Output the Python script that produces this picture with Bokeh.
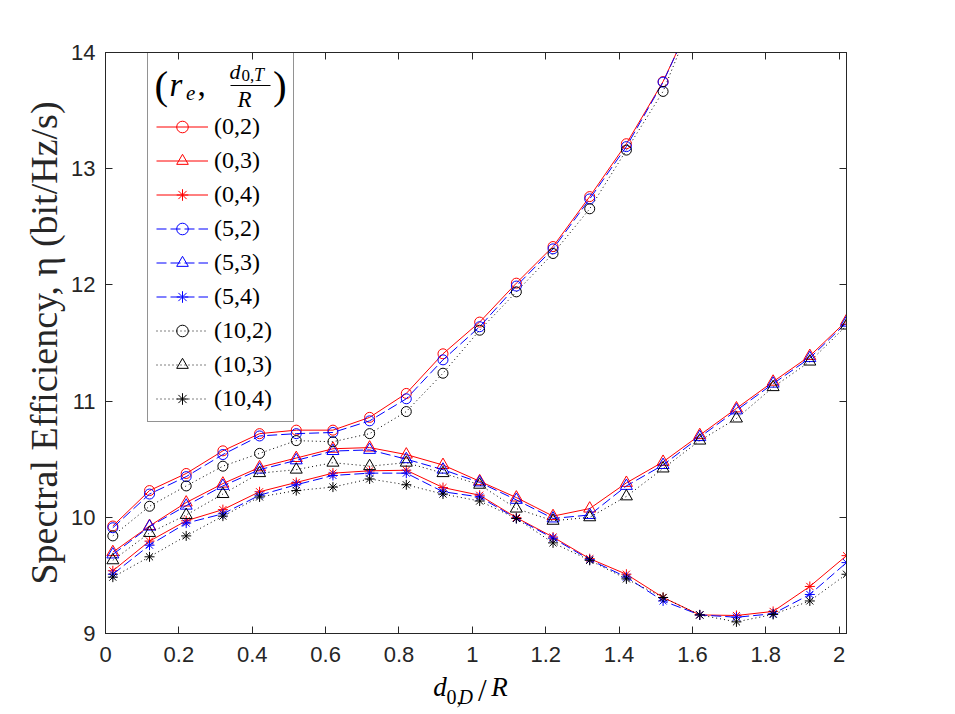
from bokeh.plotting import figure
from bokeh.layouts import column
from bokeh.models import (Legend, LegendItem, LinearAxis, FixedTicker,
                          NumeralTickFormatter, CustomJSTickFormatter, Range1d)
from bokeh.core.properties import value
from bokeh.embed import file_html
from bokeh.resources import INLINE

# ---------------- data ----------------
x_vals = [0.02, 0.12, 0.22, 0.32, 0.42, 0.52, 0.62, 0.72, 0.82, 0.92, 1.02,
          1.12, 1.22, 1.32, 1.42, 1.52, 1.62, 1.72, 1.82, 1.92, 2.02]

series_labels = ["(0,2)", "(0,3)", "(0,4)", "(5,2)", "(5,3)", "(5,4)",
                 "(10,2)", "(10,3)", "(10,4)"]

eta_0_2 = [9.925, 10.23, 10.377, 10.572, 10.72, 10.75, 10.75, 10.86, 11.066, 11.407,
           11.68, 12.015, 12.33, 12.76, 13.215, 13.75, 14.43]
eta_0_3 = [9.70, 9.925, 10.127, 10.29, 10.43, 10.51, 10.59, 10.60, 10.54, 10.45, 10.31,
           10.17, 10.01, 10.075, 10.296, 10.477, 10.707, 10.937, 11.167, 11.388, 11.69]
eta_0_4 = [9.54, 9.795, 9.97, 10.066, 10.22, 10.30, 10.38, 10.40, 10.405, 10.256, 10.19,
           9.997, 9.83, 9.644, 9.51, 9.31, 9.16, 9.155, 9.19, 9.405, 9.67]
eta_5_2 = [9.91, 10.20, 10.35, 10.54, 10.70, 10.72, 10.73, 10.83, 11.02, 11.355,
           11.64, 11.99, 12.31, 12.74, 13.19, 13.745, 14.43]
eta_5_3 = [9.68, 9.92, 10.10, 10.27, 10.41, 10.49, 10.57, 10.58, 10.50, 10.41, 10.30,
           10.15, 9.99, 10.02, 10.27, 10.45, 10.69, 10.92, 11.15, 11.37, 11.675]
eta_5_4 = [9.51, 9.76, 9.95, 10.03, 10.19, 10.28, 10.36, 10.38, 10.38, 10.22, 10.175,
           9.99, 9.82, 9.635, 9.485, 9.28, 9.16, 9.14, 9.17, 9.336, 9.61]
eta_10_2 = [9.84, 10.095, 10.27, 10.44, 10.55, 10.66, 10.65, 10.72, 10.91, 11.24,
            11.61, 11.94, 12.27, 12.655, 13.16, 13.665, 14.445]
eta_10_3 = [9.63, 9.865, 10.02, 10.20, 10.38, 10.41, 10.47, 10.44, 10.47, 10.38, 10.28,
            10.075, 9.97, 10.00, 10.18, 10.42, 10.66, 10.85, 11.12, 11.34, 11.65]
eta_10_4 = [9.485, 9.66, 9.84, 10.01, 10.175, 10.23, 10.26, 10.33, 10.28, 10.20, 10.14,
            9.99, 9.78, 9.63, 9.47, 9.31, 9.16, 9.10, 9.164, 9.28, 9.51]

series_values = [eta_0_2, eta_0_3, eta_0_4, eta_5_2, eta_5_3, eta_5_4,
                 eta_10_2, eta_10_3, eta_10_4]

x_ticks = [0, 0.2, 0.4, 0.6, 0.8, 1.0, 1.2, 1.4, 1.6, 1.8, 2.0]
y_ticks = [9, 10, 11, 12, 13, 14]

# ---------------- styles ----------------
colors = ["#ff0000"] * 3 + ["#0000ff"] * 3 + ["#000000"] * 3
dashes = ["solid"] * 3 + ["10 4"] * 3 + ["1 3"] * 3
markers = ["circle", "triangle", "asterisk"] * 3
msizes = [10, 12, 10] * 3

AX = "#262626"
SERIF = "Liberation Serif"
FL, FR, FT, FB = 105.0, 846.0, 52.0, 633.0  # frame in page px (for text placement)
XMAX, YMIN, YMAX = 2.02, 9.0, 14.0
H_MAIN, H_XLAB, W = 673, 41, 955
K_BASE = 0.33  # baseline correction of the text glyph (fraction of font size)


def dx(px):
    return (px - FL) / (FR - FL) * XMAX


def dy(py):
    return YMIN + (FB - py) / (FB - FT) * (YMAX - YMIN)


p = figure(width=W, height=H_MAIN, x_range=Range1d(0, XMAX), y_range=Range1d(YMIN, YMAX),
           output_backend="svg", toolbar_location=None,
           min_border_left=int(FL), min_border_right=W - int(FR),
           min_border_top=int(FT), min_border_bottom=H_MAIN - int(FB))
p.xgrid.visible = False
p.ygrid.visible = False
p.outline_line_color = AX
p.outline_line_width = 1
p.background_fill_color = "white"
p.border_fill_color = "white"

bottom_axis = p.below[0]
left_axis = p.left[0]
bottom_axis.ticker = FixedTicker(ticks=x_ticks)
bottom_axis.formatter = NumeralTickFormatter(format="0.[0]")
left_axis.ticker = FixedTicker(ticks=y_ticks)
left_axis.formatter = NumeralTickFormatter(format="0")

top_axis = LinearAxis(ticker=FixedTicker(ticks=x_ticks),
                      formatter=CustomJSTickFormatter(code="return ''"))
right_axis = LinearAxis(ticker=FixedTicker(ticks=y_ticks),
                        formatter=CustomJSTickFormatter(code="return ''"))
p.add_layout(top_axis, "above")
p.add_layout(right_axis, "right")

for ax in [bottom_axis, left_axis, top_axis, right_axis]:
    ax.axis_line_color = AX
    ax.axis_line_width = 1
    ax.major_tick_line_color = AX
    ax.major_tick_in = 7
    ax.major_tick_out = 0
    ax.minor_tick_line_color = None
    ax.major_label_text_font = "Liberation Sans"
    ax.major_label_text_font_size = "22px"
    ax.major_label_text_color = AX

bottom_axis.major_label_standoff = 13
left_axis.major_label_standoff = 10
left_axis.axis_label = "Spectral Efficiency, \u03b7 (bit/Hz/s)"
left_axis.axis_label_text_font = SERIF
left_axis.axis_label_text_font_style = "normal"
left_axis.axis_label_text_font_size = "38px"
left_axis.axis_label_text_color = AX
left_axis.axis_label_standoff = 3

items = []
for lab_txt, ys, c, d, m, s in zip(series_labels, series_values, colors, dashes, markers, msizes):
    xs = x_vals[:len(ys)]
    lr = p.line(xs, ys, line_color=c, line_width=1, line_dash=d)
    sr = p.scatter(xs, ys, marker=m, size=s, line_color=c, fill_color=None, line_width=1)
    items.append(LegendItem(label=lab_txt, renderers=[lr, sr]))

legend = Legend(items=items, location=(42, 211), margin=0,
                label_text_font=SERIF, label_text_font_size="24px",
                label_text_color="black", glyph_width=52, glyph_height=29,
                label_height=29, label_width=71, label_standoff=6, spacing=5, padding=8,
                border_line_color=AX, border_line_width=1,
                background_fill_color="white", background_fill_alpha=0.0,
                title=" ", title_text_font_size="40px", title_standoff=10)
p.add_layout(legend)


def txt(fig, conv_x, conv_y, text, px, py, size, style="normal"):
    fig.text(x=[conv_x(px)], y=[conv_y(py - K_BASE * size)], text=[text],
             text_font=value(SERIF), text_font_size=value(f"{size}px"),
             text_font_style=style, text_align="left", text_baseline="alphabetic",
             text_color="black")


# legend title  (r_e, d_{0,T}/R)
txt(p, dx, dy, "(", 154, 97.7, 41)
txt(p, dx, dy, "r", 169, 95, 33, "italic")
txt(p, dx, dy, "e", 185.5, 99.3, 21, "italic")
txt(p, dx, dy, ",", 197, 95, 33)
txt(p, dx, dy, "d", 229, 78.3, 22, "italic")
txt(p, dx, dy, "0,", 241, 80.7, 17)
txt(p, dx, dy, "T", 253.5, 80.7, 18, "italic")
p.segment(x0=[dx(230)], y0=[dy(85)], x1=[dx(270)], y1=[dy(85)], line_color="black", line_width=1.2)
txt(p, dx, dy, "R", 237, 106.7, 23, "italic")
txt(p, dx, dy, ")", 272.5, 97.7, 41)

# x axis label  d_{0,D}/R  in a strip below the main figure (pixel coordinates)
p2 = figure(width=W, height=H_XLAB, x_range=Range1d(0, W), y_range=Range1d(H_XLAB, 0),
            output_backend="svg", toolbar_location=None, x_axis_type=None, y_axis_type=None,
            min_border_left=0, min_border_right=0, min_border_top=0, min_border_bottom=0)
p2.outline_line_color = None
p2.grid.visible = False
p2.background_fill_color = "white"
p2.border_fill_color = "white"


def sx(px):
    return px


def sy(py):
    return py - H_MAIN


txt(p2, sx, sy, "d", 422.5, 695, 27, "italic")
txt(p2, sx, sy, "0,", 439.5, 703.5, 20)
txt(p2, sx, sy, "D", 455, 703.5, 20, "italic")
txt(p2, sx, sy, "/", 480, 700, 31)
txt(p2, sx, sy, "R", 497, 695, 27, "italic")

layout = column(p, p2, spacing=0)
open("out.html", "w").write(file_html(layout, INLINE))
